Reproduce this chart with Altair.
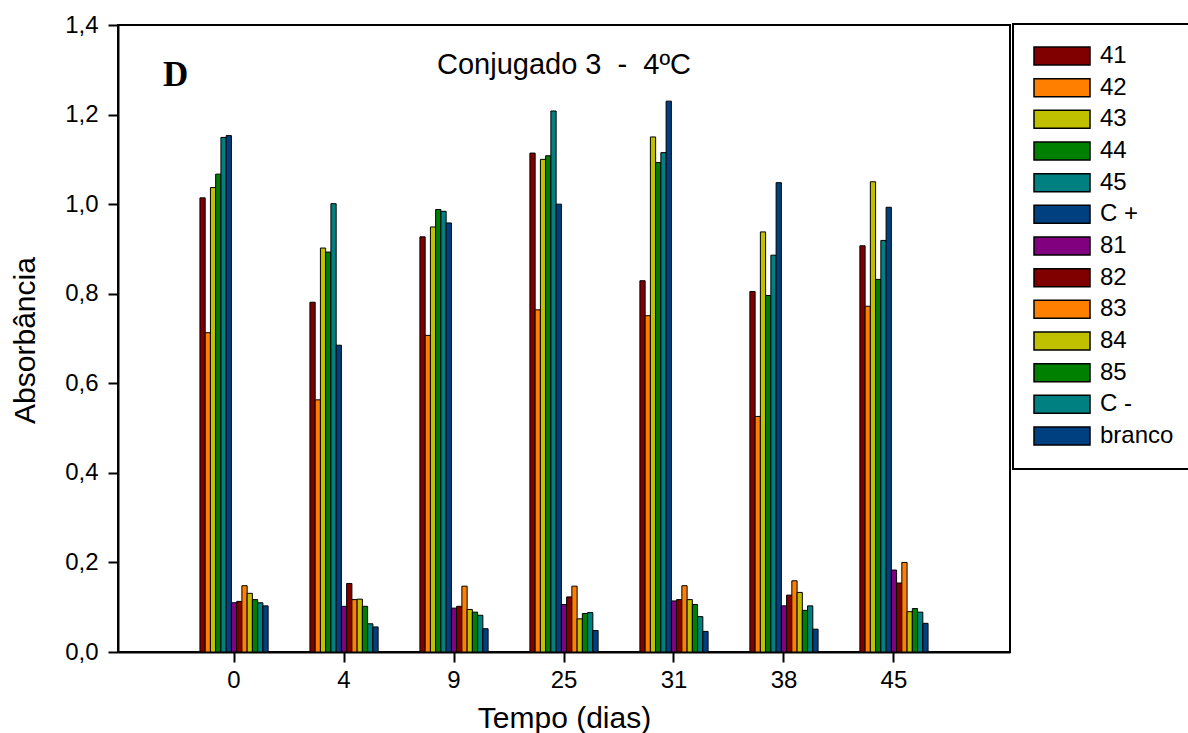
import altair as alt
import pandas as pd

times = ["0", "4", "9", "25", "31", "38", "45"]
series = ["41", "42", "43", "44", "45", "C +", "81", "82", "83", "84", "85", "C -", "branco"]
colors = ["#800000", "#FF8000", "#C0C000", "#008000", "#008080", "#004080",
          "#800080", "#800000", "#FF8000", "#C0C000", "#008000", "#008080", "#004080"]

v41 = [1.014, 0.781, 0.927, 1.114, 0.829, 0.805, 0.907]
v42 = [0.713, 0.563, 0.707, 0.764, 0.751, 0.526, 0.772]
v43 = [1.037, 0.902, 0.949, 1.100, 1.150, 0.938, 1.050]
v44 = [1.067, 0.893, 0.988, 1.108, 1.093, 0.796, 0.832]
v45 = [1.149, 1.001, 0.984, 1.208, 1.115, 0.886, 0.919]
vCp = [1.153, 0.685, 0.958, 1.000, 1.230, 1.048, 0.993]
v81 = [0.110, 0.102, 0.098, 0.106, 0.114, 0.103, 0.183]
v82 = [0.113, 0.153, 0.102, 0.123, 0.117, 0.127, 0.154]
v83 = [0.148, 0.117, 0.147, 0.147, 0.148, 0.159, 0.200]
v84 = [0.131, 0.118, 0.095, 0.074, 0.117, 0.133, 0.090]
v85 = [0.117, 0.102, 0.089, 0.086, 0.106, 0.093, 0.097]
vCm = [0.110, 0.063, 0.082, 0.088, 0.079, 0.103, 0.089]
vbr = [0.103, 0.056, 0.052, 0.048, 0.046, 0.051, 0.064]

all_values = [v41, v42, v43, v44, v45, vCp, v81, v82, v83, v84, v85, vCm, vbr]

rows = []
for s, vals in zip(series, all_values):
    for t, v in zip(times, vals):
        rows.append({"tempo": t, "serie": s, "abs": v})
df = pd.DataFrame(rows)

title_text = "Conjugado 3\u00a0\u00a0-\u00a0\u00a04ºC"
panel_text = "D"

bars = alt.Chart(df).mark_bar(stroke="black", strokeWidth=1, opacity=1).encode(
    x=alt.X("tempo:N", sort=times,
            scale=alt.Scale(paddingInner=0.38, paddingOuter=0.745),
            axis=alt.Axis(title="Tempo (dias)", labelAngle=0, labelPadding=6,
                          titleFontSize=30, titleX=446, titleY=75,
                          titleBaseline="alphabetic", titleAlign="center")),
    xOffset=alt.XOffset("serie:N", sort=series, scale=alt.Scale(paddingInner=0, paddingOuter=0)),
    y=alt.Y("abs:Q", scale=alt.Scale(domain=[0, 1.4], nice=False),
            axis=alt.Axis(title="Absorbância", values=[0, 0.2, 0.4, 0.6, 0.8, 1.0, 1.2, 1.4],
                          labelExpr="replace(format(datum.value, '.1f'), '.', ',')",
                          labelPadding=10, titleFontSize=30,
                          titleX=-93, titleY=315, titleAlign="center", titleBaseline="middle")),
    color=alt.Color("serie:N", sort=series,
                    scale=alt.Scale(domain=series, range=colors),
                    legend=alt.Legend(title=None, orient="none", legendX=895, legendY=-1,
                                      symbolType="M-1,-0.3214 L1,-0.3214 L1,0.3214 L-1,0.3214 Z",
                                      symbolSize=3136, symbolStrokeColor="black",
                                      symbolStrokeWidth=1.5, symbolOpacity=1,
                                      clipHeight=24, rowPadding=7.67, labelOffset=9,
                                      labelFontSize=24, labelFont="Liberation Sans",
                                      labelColor="black", padding=20,
                                      strokeColor="black")),
)

title_layer = alt.Chart(pd.DataFrame({"t": [title_text]})).mark_text(
    font="Liberation Sans", fontSize=29, color="black", align="center", baseline="alphabetic"
).encode(text="t:N", x=alt.value(446), y=alt.value(49))

d_layer = alt.Chart(pd.DataFrame({"t": [panel_text]})).mark_text(
    font="Liberation Serif", fontSize=35, fontWeight="bold", color="black",
    align="left", baseline="alphabetic"
).encode(text="t:N", x=alt.value(45), y=alt.value(61))

chart = alt.layer(bars, title_layer, d_layer).properties(
    width=892, height=627,
    padding={"left": 118, "top": 25, "right": 178, "bottom": 81},
    autosize=alt.AutoSizeParams(type="none"),
    background="white",
).configure_view(
    stroke="black", strokeWidth=2
).configure_axis(
    grid=False, domainColor="black", domainWidth=2, tickColor="black", tickWidth=2,
    tickSize=10, labelFontSize=24, labelFont="Liberation Sans", labelColor="black",
    titleFont="Liberation Sans", titleColor="black", titleFontWeight="normal"
).configure_legend(
    strokeWidth=2
)

chart.save("out.html", embed_options={"renderer": "svg", "actions": False})
